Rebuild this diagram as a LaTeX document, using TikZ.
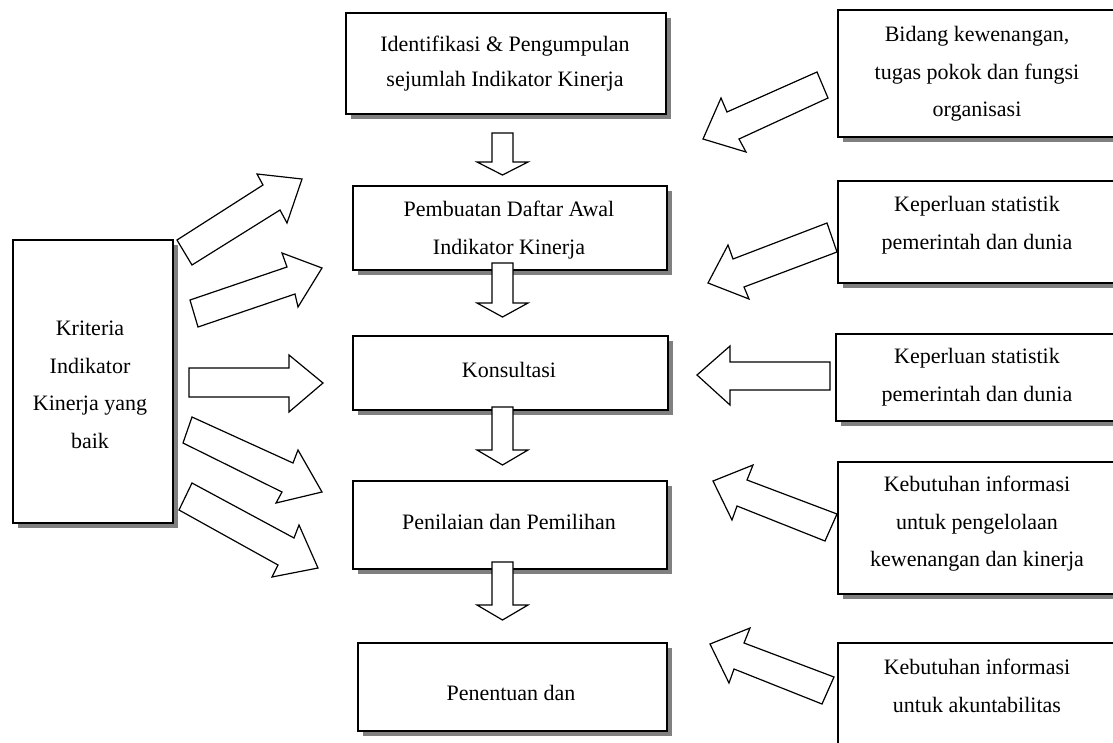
\documentclass[tikz,border=0pt]{standalone}
\usepackage{fontspec}
\setmainfont{Liberation Serif}
\usetikzlibrary{shadows}
\newcommand{\boxfont}{\fontsize{22}{37.5}\selectfont}
\tikzset{
  box/.style={draw=black, line width=1.5pt, fill=white, inner sep=0pt, anchor=north west,
    drop shadow={shadow xshift=5pt, shadow yshift=-5pt, fill=black!50, opacity=1}},
  txt/.style={font=\boxfont, align=center, inner sep=0pt},
  barrow/.style={draw=black, fill=white, line width=1.2pt, line join=miter},
}
\begin{document}
\begin{tikzpicture}[x=1pt, y=-1pt]
\clip (0,0) rectangle (1113,742);
\fill[white] (0,0) rectangle (1113,742);

% ---- central boxes ----
\node[box, minimum width=320pt, minimum height=101pt] (b1) at (345,12) {};
\node[box, minimum width=314pt, minimum height=84pt] (b2) at (352,185) {};
\node[box, minimum width=315pt, minimum height=74pt] (b3) at (352,335) {};
\node[box, minimum width=314pt, minimum height=88pt] (b4) at (352,480) {};
\node[box, minimum width=309pt, minimum height=88pt] (b5) at (357,642) {};

% ---- left box ----
\node[box, minimum width=160pt, minimum height=283pt] (kl) at (12,239) {};

% ---- right boxes ----
\node[box, minimum width=300pt, minimum height=127pt] (r1) at (837,9) {};
\node[box, minimum width=300pt, minimum height=102pt] (r2) at (837,180) {};
\node[box, minimum width=300pt, minimum height=87pt] (r3) at (835,333) {};
\node[box, minimum width=300pt, minimum height=132pt] (r4) at (837,461) {};
\node[box, minimum width=300pt, minimum height=130pt] (r5) at (837,642) {};

% ---- texts ----
\node[txt] (t1) at (505,64) {Identifikasi \& Pengumpulan\\[-2.5pt]sejumlah Indikator Kinerja};
\node[txt] (t2) at (509,230) {Pembuatan Daftar Awal\\Indikator Kinerja};
\node[txt] (t3) at (509,370) {Konsultasi};
\node[txt] (t4) at (509,522) {Penilaian dan Pemilihan};
\node[txt] (t5) at (511,693) {Penentuan dan};
\node[txt] (tk) at (90,385) {Kriteria\\Indikator\\Kinerja yang\\baik};
\node[txt] (tr1) at (977,74) {Bidang kewenangan,\\tugas pokok dan fungsi\\organisasi};
\node[txt] (tr2) at (977,225) {Keperluan statistik\\pemerintah dan dunia};
\node[txt] (tr3) at (977,377) {Keperluan statistik\\pemerintah dan dunia};
\node[txt] (tr4) at (977,524) {Kebutuhan informasi\\untuk pengelolaan\\kewenangan dan kinerja};
\node[txt] (tr5) at (977,686) {Kebutuhan informasi\\untuk akuntabilitas};

% ---- down arrows between central boxes ----
\foreach \a/\b/\c in {133/162/175, 263/303/317, 407/450/465, 562/605/620}{
  \draw[barrow] (492,\a) -- (513,\a) -- (513,\b) -- (528,\b) -- (502.5,\c)
    -- (477,\b) -- (492,\b) -- cycle;
}

% ---- left arrows ----
\draw[barrow] (177,240) -- (263,185) -- (257,174) -- (302,179) -- (287,223) -- (280,210) -- (192,265) -- cycle;
\draw[barrow] (190,300) -- (287,267) -- (282,253) -- (322,268) -- (298,307) -- (295,294) -- (198,327) -- cycle;
\draw[barrow] (189,368) -- (289,368) -- (289,355) -- (323,383) -- (289,412) -- (289,397) -- (189,397) -- cycle;
\draw[barrow] (192,417) -- (293,463) -- (298,450) -- (322,492) -- (276,503) -- (282,492) -- (183,443) -- cycle;
\draw[barrow] (192,483) -- (294,538) -- (299,525) -- (318,568) -- (272,577) -- (278,565) -- (179,510) -- cycle;

% ---- right arrows ----
\draw[barrow] (817,72) -- (727,112) -- (721,98) -- (703,139) -- (746,152) -- (739,139) -- (828,98) -- cycle;
\draw[barrow] (827,223) -- (733,259) -- (728,245) -- (708,283) -- (749,299) -- (744,287) -- (837,252) -- cycle;
\draw[barrow] (830,362) -- (730,362) -- (730,346) -- (697,375) -- (730,405) -- (730,390) -- (830,390) -- cycle;
\draw[barrow] (837,514) -- (747,480) -- (753,465) -- (713,481) -- (732,520) -- (737,506) -- (825,541) -- cycle;
\draw[barrow] (834,677) -- (744,643) -- (750,628) -- (710,644) -- (729,683) -- (734,669) -- (822,704) -- cycle;
\end{tikzpicture}
\end{document}
